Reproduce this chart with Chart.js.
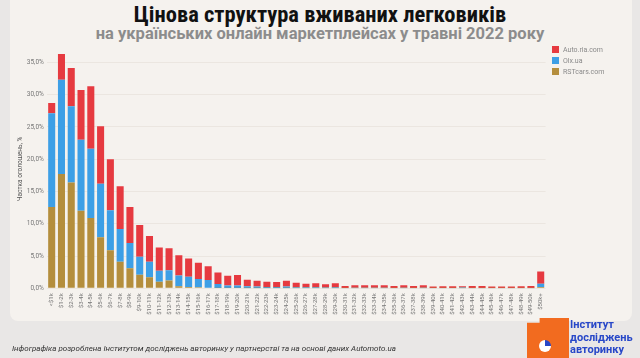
<!DOCTYPE html>
<html>
<head>
<meta charset="utf-8">
<script src="https://cdn.jsdelivr.net/npm/chart.js@4"></script>
<style>
  body { margin: 0; background: #e9e7e6; font-family: Roboto, sans-serif; }
  #wrap { position: relative; width: 640px; height: 358px; overflow: hidden; }
  #panel { position: absolute; left: 10px; top: -10px; width: 622px; height: 331px; background: #f5f2ee; border-radius: 8px; }
  #title { position: absolute; left: 0; width: 640px; top: 1px; text-align: center; font-family: 'Liberation Sans Narrow', 'Roboto Condensed', Roboto, sans-serif; font-weight: bold; font-size: 22.5px; color: #111; }
  #subtitle { position: absolute; left: 0; width: 640px; top: 24px; text-align: center; font-family: Roboto, sans-serif; font-weight: bold; font-size: 16.5px; color: #8c8c8c; }
  #chartBox { position: absolute; left: 0; top: 0; width: 640px; height: 358px; }
  #legend { position: absolute; left: 552px; top: 44px; font-size: 7px; color: #8a8a8a; }
  #legend div { height: 11px; display: flex; align-items: center; }
  #legend span.box { display: inline-block; width: 7px; height: 7px; margin-right: 4px; }
  #footer { position: absolute; left: 12px; top: 344px; font-size: 8px; font-style: italic; color: #333; }
  #logo { position: absolute; left: 527px; top: 318px; width: 42px; height: 40px; background: #f26b1f; clip-path: polygon(0 12%, 30% 12%, 30% 0, 100% 0, 100% 100%, 0 100%); }
  #pie { position: absolute; left: 539px; top: 340px; width: 12px; height: 12px; border-radius: 50%; background: conic-gradient(#2747c8 0 25%, #fff 25% 100%); }
  #logoText { position: absolute; left: 570px; top: 319px; font-weight: bold; font-size: 11px; line-height: 12.5px; color: #2747c8; }
</style>
</head>
<body>
<div id="wrap">
  <div id="panel"></div>
  <div id="title">Цінова структура вживаних легковиків</div>
  <div id="subtitle">на українських онлайн маркетплейсах у травні 2022 року</div>
  <div id="chartBox"><canvas id="chart"></canvas></div>
  <div id="legend"></div>
  <div id="footer">Інфографіка розроблена Інститутом досліджень авторинку у партнерстві та на основі даних Automoto.ua</div>
  <div id="logo"></div>
  <div id="pie"></div>
  <div id="logoText">Інститут<br>досліджень<br>авторинку</div>
</div>
<script>
const priceRanges = [
  '<$1k', '$1-2k', '$2-3k', '$3-4k', '$4-5k', '$5-6k', '$6-7k', '$7-8k', '$8-9k', '$9-10k',
  '$10-11k', '$11-12k', '$12-13k', '$13-14k', '$14-15k', '$15-16k', '$16-17k', '$17-18k', '$18-19k', '$19-20k',
  '$20-21k', '$21-22k', '$22-23k', '$23-24k', '$24-25k', '$25-26k', '$26-27k', '$27-28k', '$28-29k', '$29-30k',
  '$30-31k', '$31-32k', '$32-33k', '$33-34k', '$34-35k', '$35-36k', '$36-37k', '$37-38k', '$38-39k', '$39-40k',
  '$40-41k', '$41-42k', '$42-43k', '$43-44k', '$44-45k', '$45-46k', '$46-47k', '$47-48k', '$48-49k', '$49-50k',
  '$50k+'
]

// shares, % of each marketplace's listings
const rstcars = [
  12.6, 17.7, 16.4, 12.0, 10.9, 7.9, 5.9, 4.1, 3.1, 2.1,
  1.7, 1.0, 1.2, 0.3, 0.2, 0.15, 0.1, 0.05, 0.05, 0.05,
  0.02, 0.02, 0.02, 0.02, 0.02, 0.02, 0.02, 0.02, 0.02, 0.02,
  0.01, 0.01, 0.01, 0.01, 0.01, 0.01, 0.01, 0.01, 0.01, 0.01,
  0.01, 0.01, 0.01, 0.01, 0.01, 0.01, 0.01, 0.01, 0.01, 0.01,
  0.2
]
const olx = [
  14.5, 14.6, 11.8, 11.0, 10.7, 8.3, 6.2, 5.1, 3.9, 2.8,
  2.4, 1.7, 1.6, 1.7, 1.6, 1.3, 1.2, 0.6, 0.4, 0.4,
  0.3, 0.25, 0.2, 0.2, 0.25, 0.15, 0.15, 0.15, 0.1, 0.15,
  0.05, 0.08, 0.08, 0.08, 0.08, 0.05, 0.08, 0.05, 0.08, 0.05,
  0.05, 0.05, 0.1, 0.05, 0.05, 0.03, 0.03, 0.03, 0.05, 0.05,
  0.5
]
const autoria = [
  1.6, 4.0, 5.9, 7.7, 9.7, 8.9, 7.9, 6.6, 5.6, 4.9,
  4.0, 3.6, 3.4, 3.1, 2.8, 2.5, 2.1, 1.8, 1.5, 1.6,
  1.0, 0.9, 0.8, 0.75, 0.9, 0.7, 0.55, 0.6, 0.5, 0.6,
  0.3, 0.4, 0.4, 0.4, 0.4, 0.3, 0.4, 0.3, 0.4, 0.22,
  0.25, 0.25, 0.2, 0.3, 0.3, 0.22, 0.22, 0.22, 0.25, 0.3,
  1.9
]

const yTicks = [0, 5, 10, 15, 20, 25, 30, 35]

const series = [
  { label: 'RSTcars.com', data: rstcars, color: '#b48e3d' },
  { label: 'Olx.ua', data: olx, color: '#3d9fe6' },
  { label: 'Auto.ria.com', data: autoria, color: '#e63a40' }
]

// legend (top to bottom: Auto.ria, Olx, RST)
const legend = document.getElementById('legend')
series.slice().reverse().forEach(function (s) {
  const row = document.createElement('div')
  row.innerHTML = '<span class="box" style="background:' + s.color + '"></span>' + s.label
  legend.appendChild(row)
})

const ctx = document.getElementById('chart').getContext('2d')
Chart.defaults.font.family = 'Roboto, sans-serif'

const chart = new Chart(ctx, {
  type: 'bar',
  data: {
    labels: priceRanges,
    datasets: series.map(function (s) {
      return {
        label: s.label,
        data: s.data,
        backgroundColor: s.color,
        barPercentage: 0.9,
        categoryPercentage: 0.8
      }
    })
  },
  options: {
    responsive: true,
    maintainAspectRatio: false,
    animation: false,
    layout: { padding: { top: 49.4, right: 94.4, left: 12, bottom: 0 } },
    plugins: {
      legend: { display: false },
      tooltip: { enabled: false }
    },
    scales: {
      x: {
        stacked: true,
        grid: { display: false, drawTicks: false },
        border: { display: false },
        ticks: {
          autoSkip: false,
          maxRotation: 90,
          minRotation: 90,
          padding: 5,
          color: '#777',
          font: { size: 6 }
        },
        afterFit: function (scale) { scale.height = 358 - 288.3 }
      },
      y: {
        stacked: true,
        min: 0,
        max: 37,
        afterBuildTicks: function (scale) {
          scale.ticks = yTicks.map(function (v) { return { value: v } })
        },
        grid: { color: '#ebe6e0', drawTicks: false },
        border: { display: false },
        ticks: {
          padding: 3,
          color: '#777',
          font: { size: 6.5 },
          callback: function (v) { return v.toFixed(1).replace('.', ',') + '%' }
        },
        title: {
          display: true,
          text: 'Частка оголошень, %',
          color: '#555',
          font: { size: 6.5 }
        },
        afterFit: function (scale) { scale.width = 34.8 }
      }
    }
  }
})
</script>
</body>
</html>
